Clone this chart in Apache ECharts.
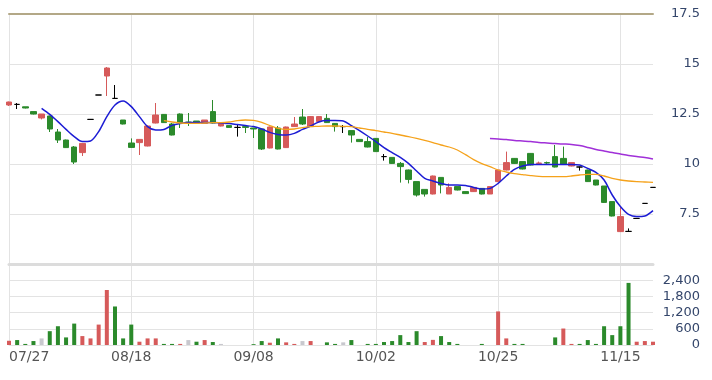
<!DOCTYPE html>
<html><head><meta charset="utf-8">
<script src="https://cdn.jsdelivr.net/npm/echarts@6/dist/echarts.min.js"></script>
<style>html,body{margin:0;padding:0;background:#fff}#c{width:712px;height:380px}</style>
</head><body><div id="c"></div>
<script>
const dates = ['07/27','07/28','07/29','07/30','07/31','08/03','08/04','08/05','08/06','08/07','08/10','08/11','08/12','08/13','08/14',
'08/18','08/19','08/20','08/21','08/24','08/25','08/26','08/27','08/28','08/31','09/01','09/02','09/03','09/04','09/07',
'09/08','09/09','09/10','09/11','09/14','09/15','09/16','09/17','09/18','09/21','09/22','09/23','09/24','09/25','09/28',
'10/02','10/05','10/06','10/07','10/08','10/12','10/13','10/14','10/15','10/16','10/19','10/20','10/21','10/22','10/23',
'10/25','10/26','10/27','10/28','10/29','10/30','11/02','11/03','11/04','11/05','11/06','11/09','11/10','11/11','11/12',
'11/15','11/16','11/17','11/18','11/19'];
const opens = [12.95,12.98,12.86,12.62,12.3,12.4,11.6,11.2,10.85,10.57,12.23,13.45,14.4,13.28,12.2,11.05,11.07,10.9,12.05,12.48,
12.0,12.5,12.1,12.15,12.03,12.62,11.9,11.92,11.83,11.87,11.8,11.75,10.8,11.8,10.82,11.87,12.35,11.87,12.12,12.28,
12.03,11.87,11.67,11.23,11.12,11.28,10.37,10.33,10.03,9.7,9.12,8.73,8.5,9.33,8.5,8.87,8.62,8.62,8.78,8.5,
9.12,9.7,10.28,10.12,10.53,10.03,10.07,10.37,10.28,9.9,9.85,9.7,9.2,8.9,8.12,6.62,6.63,7.28,8.03,8.83];
const closes = [13.1,12.98,12.8,12.5,12.5,11.75,11.2,10.82,10.1,11.03,12.23,13.45,14.8,13.28,12.0,10.83,11.23,11.9,12.45,12.07,
11.45,12.07,12.07,12.05,12.2,12.05,12.05,11.83,11.83,11.83,11.75,10.75,11.85,10.75,11.85,12.0,12.0,12.37,12.37,12.07,
11.87,11.87,11.45,11.12,10.85,10.62,10.37,10.03,9.87,9.23,8.45,8.5,9.4,8.95,8.83,8.7,8.52,8.83,8.5,8.87,
9.7,10.07,10.03,9.75,9.95,10.05,10.05,9.85,10.0,10.07,9.85,9.12,8.95,8.08,7.4,7.37,6.63,7.28,8.03,8.83];
const lows = [12.9,12.75,12.78,12.48,12.23,11.6,11.05,10.8,10.0,10.4,12.23,13.45,13.4,13.28,11.98,10.82,10.45,10.88,12.03,12.05,
11.43,11.8,11.9,12.03,12.03,12.03,11.88,11.82,11.37,11.55,11.3,10.7,10.78,10.73,10.8,11.85,11.95,11.85,12.1,12.05,
11.62,11.55,11.07,11.1,10.83,10.6,10.17,10.0,9.07,9.03,8.37,8.37,8.48,8.53,8.5,8.68,8.5,8.6,8.48,8.5,
9.1,9.68,10.0,9.73,9.93,9.95,9.97,9.83,9.98,9.88,9.67,9.1,8.93,8.05,7.38,6.6,6.63,7.28,8.03,8.83];
const highs = [13.12,13.05,12.86,12.62,12.5,12.42,11.75,11.22,10.9,11.05,12.23,13.45,14.85,13.95,12.2,11.28,11.25,11.92,13.05,12.5,
12.05,12.53,12.55,12.15,12.2,13.2,12.07,11.92,11.98,11.87,11.8,11.75,11.87,11.9,11.87,12.35,12.75,12.4,12.4,12.5,
12.05,11.95,11.67,11.23,11.35,11.3,10.5,10.33,10.1,9.72,9.12,8.73,9.42,9.33,9.03,8.87,8.62,8.85,8.78,8.87,
9.72,10.62,10.3,10.12,10.55,10.12,10.12,10.95,10.87,10.08,9.87,9.72,9.2,8.9,8.12,7.85,6.78,7.28,8.03,8.83];
const volumes = [157,183,40,146,244,512,695,281,793,330,244,756,2037,1427,244,756,122,244,244,40,
40,40,183,122,183,110,40,0,0,0,30,146,85,244,98,40,146,146,0,98,
40,98,183,0,40,40,110,146,366,110,512,110,190,330,110,40,0,0,40,0,
1244,244,40,40,0,0,0,281,610,40,40,183,40,695,366,695,2300,122,146,122];
const ma5 = ['-','-','-','-',12.78,12.48,12.12,11.73,11.37,11.12,11.15,11.62,12.37,12.95,13.15,12.87,12.37,11.87,11.7,11.73,
11.93,12.03,12.08,12.08,12.08,12.08,12.05,12.02,11.97,11.92,11.87,11.75,11.58,11.48,11.45,11.53,11.73,11.9,12.1,12.17,
12.17,12.15,11.92,11.67,11.4,11.12,10.82,10.57,10.33,10.03,9.65,9.28,9.15,9.03,8.95,8.95,8.93,8.83,8.75,8.78,
9.03,9.4,9.73,9.9,9.98,9.98,9.98,9.98,9.98,9.98,9.95,9.78,9.58,9.2,8.45,7.87,7.48,7.37,7.4,7.67];
const ma20 = ['-','-','-','-','-','-','-','-','-','-','-','-','-','-','-','-','-','-','-',12.17,
12.1,12.05,12.03,12.03,12.05,12.07,12.07,12.1,12.17,12.2,12.18,12.08,11.92,11.78,11.73,11.75,11.82,11.87,11.88,11.9,
11.9,11.88,11.87,11.8,11.73,11.67,11.6,11.53,11.45,11.37,11.28,11.18,11.07,10.95,10.85,10.7,10.47,10.22,10.02,9.87,
9.7,9.6,9.52,9.47,9.42,9.38,9.37,9.37,9.37,9.4,9.45,9.48,9.48,9.4,9.28,9.2,9.15,9.12,9.1,9.08];
const ma60 = ['-','-','-','-','-','-','-','-','-','-','-','-','-','-','-','-','-','-','-','-',
'-','-','-','-','-','-','-','-','-','-','-','-','-','-','-','-','-','-','-','-',
'-','-','-','-','-','-','-','-','-','-','-','-','-','-','-','-','-','-','-',11.28,
11.25,11.22,11.18,11.15,11.12,11.08,11.05,11.02,11.0,10.98,10.92,10.83,10.73,10.65,10.57,10.5,10.43,10.37,10.32,10.25];

const UP = '#d65a5a', DOWN = '#2b8a2b', FLAT = '#c8c8ce';
const candleData = opens.map((o, i) => [o, closes[i], lows[i], highs[i]]);
const volData = volumes.map((v, i) => {
  let c = UP;
  if (i > 0) c = closes[i] > closes[i-1] ? UP : (closes[i] < closes[i-1] ? DOWN : FLAT);
  return { value: v, itemStyle: { color: c } };
});

const chart = echarts.init(document.getElementById('c'), null, { renderer: 'canvas' });
const gridL = 9, gridR = 59;
const splitX = { show: true, interval: 14, lineStyle: { color: '#e3e3e3', width: 1 } };
chart.setOption({
  animation: false,
  backgroundColor: '#fff',
  grid: [
    { left: gridL, right: gridR, top: 14, height: 250 },
    { left: gridL, right: gridR, top: 264, height: 81 }
  ],
  xAxis: [
    { type: 'category', gridIndex: 0, data: dates, boundaryGap: false,
      axisLine: { show: true, lineStyle: { color: '#dcdcdc', width: 3 } },
      axisTick: { show: false }, axisLabel: { show: false }, splitLine: splitX },
    { type: 'category', gridIndex: 1, data: dates, boundaryGap: false,
      axisLine: { show: true, lineStyle: { color: '#e3e3e3', width: 1 } },
      axisTick: { show: false },
      axisLabel: { interval: 14, color: '#555', fontSize: 14, margin: 5, alignMinLabel: 'left',
        fontFamily: 'DejaVu Sans' },
      splitLine: splitX },
    { type: 'category', gridIndex: 0, data: dates, boundaryGap: false, position: 'top',
      axisLine: { show: true, lineStyle: { color: '#b3a887', width: 2 } },
      axisTick: { show: false }, axisLabel: { show: false }, splitLine: { show: false } }
  ],
  yAxis: [
    { type: 'value', gridIndex: 0, position: 'right', min: 5, max: 17.5, interval: 2.5,
      axisLine: { show: false }, axisTick: { show: false },
      splitLine: { lineStyle: { color: '#e3e3e3' } },
      axisLabel: { showMinLabel: false, align: 'right', margin: 47, color: '#34466b', fontSize: 13,
        fontFamily: 'DejaVu Sans' } },
    { type: 'value', gridIndex: 1, position: 'right', min: 0, max: 3000, interval: 600,
      axisLine: { show: false }, axisTick: { show: false },
      splitLine: { lineStyle: { color: '#e3e3e3' } },
      axisLabel: { showMaxLabel: false, align: 'right', margin: 47, color: '#34466b', fontSize: 13,
        fontFamily: 'DejaVu Sans',
        formatter: v => v.toLocaleString('en-US') } }
  ],
  series: [
    { type: 'candlestick', xAxisIndex: 0, yAxisIndex: 0, data: candleData, barWidth: 6, clip: false,
      itemStyle: { color: UP, color0: DOWN, borderColor: UP, borderColor0: DOWN, borderColorDoji: '#000', borderWidth: 1 } },
    { type: 'line', xAxisIndex: 0, yAxisIndex: 0, data: ma5, smooth: 0.3, symbol: 'none',
      lineStyle: { color: '#1c1cd4', width: 1.5 } },
    { type: 'line', xAxisIndex: 0, yAxisIndex: 0, data: ma20, smooth: 0.3, symbol: 'none',
      lineStyle: { color: '#f5a21b', width: 1.3 } },
    { type: 'line', xAxisIndex: 0, yAxisIndex: 0, data: ma60, smooth: 0.3, symbol: 'none',
      lineStyle: { color: '#a030d8', width: 1.5 } },
    { type: 'bar', xAxisIndex: 1, yAxisIndex: 1, data: volData, barWidth: 4, clip: false }
  ]
});
</script></body></html>
